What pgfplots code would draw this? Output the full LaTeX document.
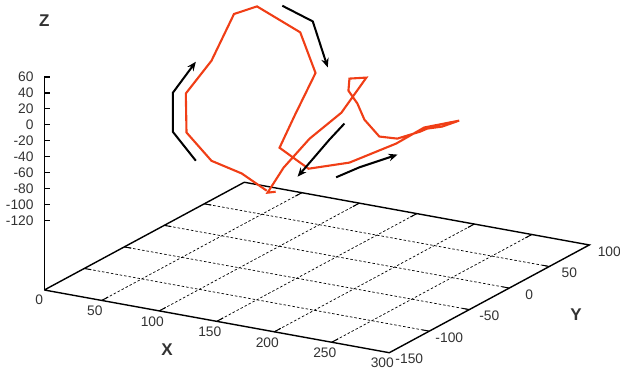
\documentclass[border=0pt]{standalone}
\usepackage{fontspec}
\setmainfont{Liberation Sans}
\usepackage{pgfplots}
\pgfplotsset{compat=1.18}
\usetikzlibrary{arrows.meta,calc}
\definecolor{curve}{RGB}{240,62,22}
\definecolor{lab}{RGB}{50,50,50}
\begin{document}
\begin{tikzpicture}[font=\fontsize{13.8}{14}\selectfont]
\begin{axis}[
  x={(1.15pt,-0.209pt)}, y={(0.8pt,0.431pt)}, z={(0pt,0.797pt)},
  xmin=0,xmax=300,ymin=-150,ymax=100,zmin=-207.3,zmax=60,
  hide axis, clip=false,
]
\coordinate (O) at (axis cs:0,-150,-207.3);
% grid on base plane
\pgfplotsinvokeforeach{50,100,150,200,250}{
  \draw[black, line width=0.7pt, dash pattern=on 2.5pt off 2pt] (axis cs:#1,-150,-207.3) -- (axis cs:#1,100,-207.3);
  \draw[black, line width=1pt] (axis cs:#1,-150,-207.3) -- (axis cs:#1,-142,-207.3);
  \draw[black, line width=1pt] (axis cs:#1,100,-207.3) -- (axis cs:#1,92,-207.3);
  \node[text=lab, xshift=-7pt, yshift=-10.5pt] at (axis cs:#1,-150,-207.3) {#1};
}
\node[text=lab, xshift=-5pt, yshift=-10pt] at (axis cs:0,-150,-207.3) {0};
\node[text=lab, xshift=-7pt, yshift=-10pt] at (axis cs:300,-150,-207.3) {300};
\pgfplotsinvokeforeach{-100,-50,0,50}{
  \draw[black, line width=0.7pt, dash pattern=on 2.5pt off 2pt] (axis cs:0,#1,-207.3) -- (axis cs:300,#1,-207.3);
  \draw[black, line width=1pt] (axis cs:0,#1,-207.3) -- (axis cs:6,#1,-207.3);
  \draw[black, line width=1pt] (axis cs:300,#1,-207.3) -- (axis cs:294,#1,-207.3);
  \node[text=lab, xshift=20pt, yshift=-6.5pt] at (axis cs:300,#1,-207.3) {#1};
}
\node[text=lab, xshift=20pt, yshift=-6.5pt] at (axis cs:300,-150,-207.3) {-150};
\node[text=lab, xshift=20pt, yshift=-6.5pt] at (axis cs:300,100,-207.3) {100};
% base box
\addplot3[black, line width=1.4pt, no marks] coordinates {(0,-150,-207.3) (300,-150,-207.3) (300,100,-207.3) (0,100,-207.3) (0,-150,-207.3)};
% z axis
\addplot3[black, line width=1.4pt, no marks] coordinates {(0,-150,-207.3) (0,-150,60)};
\pgfplotsinvokeforeach{-120,-100,-80,-60,-40,-20,0,20,40,60}{
  \draw[black, line width=1.3pt] (axis cs:0,-150,#1) -- ++(6pt,0pt);
  \node[text=lab, anchor=east, inner sep=0pt, xshift=-10.5pt] at (axis cs:0,-150,#1) {#1};
}
% trajectory
\addplot3[curve, line width=2.1pt, no marks] coordinates {
(90.4,-2,-139.0) (68.7,-2,-123.1) (42.4,-2,-114.1) (20.7,-2,-84.3) (20.1,-2,-35.5)
(42.4,-2,11.4) (62.0,-2,75.2) (82.0,-2,90.0) (119.6,-2,67.3) (132.9,-2,19.8)
(114.7,-2,-38.5) (101.6,-2,-82.2) (126.8,-2,-101.9) (162.4,-2,-84.9) (203.1,-2,-50.3)
(227.4,-2,-23.8) (257.8,-2,-7.2) (243.0,-2,-18.6) (230.0,-2,-24.5) (223.9,-2,-29.9)
(204.0,-2,-43.9) (188.4,-2,-45.4) (175.4,-2,-27.6) (169.3,-2,-9.0) (161.5,-2,5.1)
(162.4,-2,20.5) (177.1,-2,25.6) (155.4,-2,-24.1) (127.7,-2,-64.0) (112.9,-2,-91.7)
(105.1,-2,-106.3) (91.2,-2,-141.3) (98.2,-2,-138.3)
};
% direction arrows
\addplot3[black, line width=2pt, no marks, -{Stealth[length=9pt,width=7.5pt]}] coordinates {
(28.8,-2,-117.6) (8.8,-2,-86.5) (8.8,-2,-37.6) (28.8,-2,6.6)};
\addplot3[black, line width=2pt, no marks, -{Stealth[length=9pt,width=7.5pt]}] coordinates {
(104.0,-2,96.6) (130.5,-2,83.9) (143.5,-2,29.6)};
\addplot3[black, line width=2pt, no marks, -{Stealth[length=9pt,width=7.5pt]}] coordinates {
(158.0,-2,-37.1) (145.0,-2,-60.6) (117.3,-2,-114.4)};
\addplot3[black, line width=2pt, no marks, -{Stealth[length=9pt,width=7.5pt]}] coordinates {
(150.8,-2,-106.4) (171.0,-2,-88.6) (204.2,-2,-63.9)};
\end{axis}
\node[text=lab, font=\fontsize{17}{17}\selectfont\bfseries] at ($(O)+(0pt,269pt)$) {Z};
\node[text=lab, font=\fontsize{17}{17}\selectfont\bfseries] at ($(O)+(122.7pt,-60pt)$) {X};
\node[text=lab, font=\fontsize{17}{17}\selectfont\bfseries] at ($(O)+(531.7pt,-25pt)$) {Y};
\pgfresetboundingbox
\path[use as bounding box] ($(O)+(-44.3pt,-79pt)$) rectangle ++(620pt,369pt);
\end{tikzpicture}
\end{document}
